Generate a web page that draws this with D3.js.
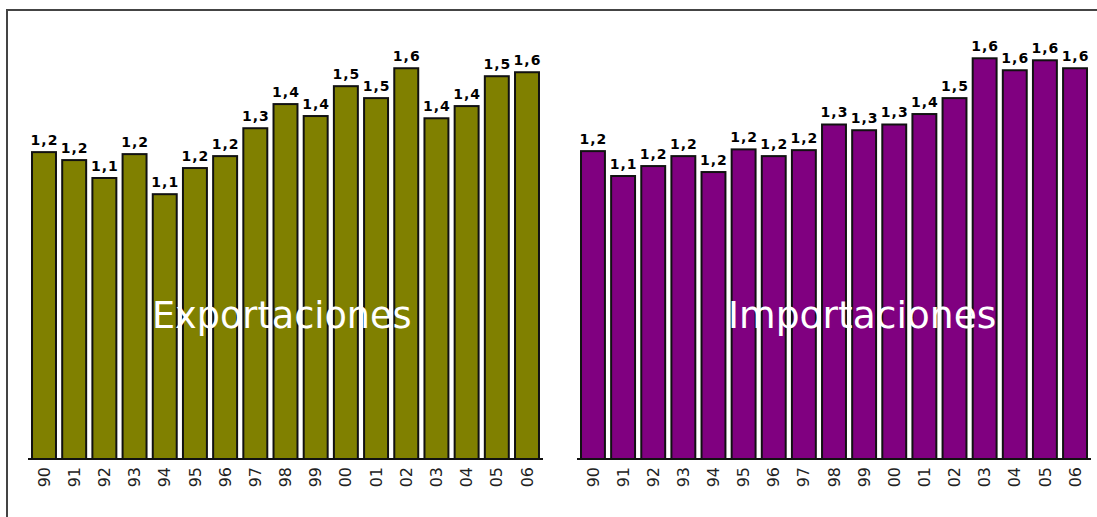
<!DOCTYPE html>
<html>
<head>
<meta charset="utf-8">
<script src="https://cdn.jsdelivr.net/npm/d3@7"></script>
<style>
  body { margin: 0; background: #fff; }
  svg { display: block; }
</style>
</head>
<body>
<script>
// Years on the x axis (same for both panels)
var years = ["90","91","92","93","94","95","96","97","98","99","00","01","02","03","04","05","06"];

// Values
var exportaciones = [1.237, 1.205, 1.133, 1.229, 1.068, 1.173, 1.221, 1.333, 1.430, 1.382,
                     1.502, 1.454, 1.574, 1.373, 1.422, 1.542, 1.558];
var importaciones = [1.241, 1.141, 1.181, 1.221, 1.157, 1.248, 1.221, 1.245, 1.348, 1.325,
                     1.348, 1.390, 1.454, 1.614, 1.566, 1.606, 1.574];

var width = 1097, height = 517;
var baseline = 459;

var svg = d3.select("body").append("svg")
    .attr("width", width)
    .attr("height", height);

// frame: only top and left edges are visible
svg.append("path")
    .attr("d", "M7,517 V10 H1097")
    .attr("fill", "none")
    .attr("stroke", "#444")
    .attr("stroke-width", 2);

// shared y scale
var y = d3.scaleLinear()
    .domain([0, 1.8])
    .range([baseline, baseline - 448]);

var fmt = function(v) { return d3.format(".1f")(v).replace(".", ","); };

function panel(values, x0, x1, color, title, titleX, titleSize) {
  var x = d3.scaleBand()
      .domain(years)
      .range([x0, x1])
      .paddingInner(0.14)
      .paddingOuter(0.1);

  var g = svg.append("g");

  // bars
  g.selectAll("rect")
    .data(values)
    .enter().append("rect")
      .attr("x", function(d, i) { return x(years[i]) + 1; })
      .attr("y", function(d) { return y(d) + 1; })
      .attr("width", x.bandwidth() - 2)
      .attr("height", function(d) { return baseline - y(d) - 1; })
      .attr("fill", color)
      .attr("stroke", "#111")
      .attr("stroke-width", 2);

  // value labels
  g.selectAll("text.val")
    .data(values)
    .enter().append("text")
      .attr("class", "val")
      .attr("x", function(d, i) { return x(years[i]) + x.bandwidth() / 2 + 0.5; })
      .attr("y", function(d) { return y(d) - 6; })
      .attr("text-anchor", "middle")
      .style("font-family", "DejaVu Sans")
      .style("font-weight", "bold")
      .style("font-size", "14px")
      .style("letter-spacing", "1px")
      .style("fill", "#000")
      .text(fmt);

  // x axis
  var axis = g.append("g")
      .attr("transform", "translate(0," + baseline + ")")
      .call(d3.axisBottom(x).tickSize(0));
  axis.select(".domain")
      .attr("d", "M" + x0 + ",0H" + x1)
      .attr("stroke", "#111")
      .attr("stroke-width", 2);
  axis.selectAll("text")
      .attr("transform", "rotate(-90)")
      .attr("x", -8)
      .attr("y", 0)
      .attr("dy", "0.35em")
      .style("text-anchor", "end")
      .style("font-family", "DejaVu Sans")
      .style("font-size", "16px")
      .style("fill", "#222");

  // title across the bars
  g.append("text")
      .attr("x", titleX)
      .attr("y", 328)
      .style("font-family", "DejaVu Sans")
      .style("font-size", titleSize + "px")
      .style("fill", "#fff")
      .text(title);
}

panel(exportaciones, 28, 543, "#808000", "Exportaciones", 152, 36.6);
panel(importaciones, 577, 1091, "#800080", "Importaciones", 728, 37.6);
</script>
</body>
</html>
